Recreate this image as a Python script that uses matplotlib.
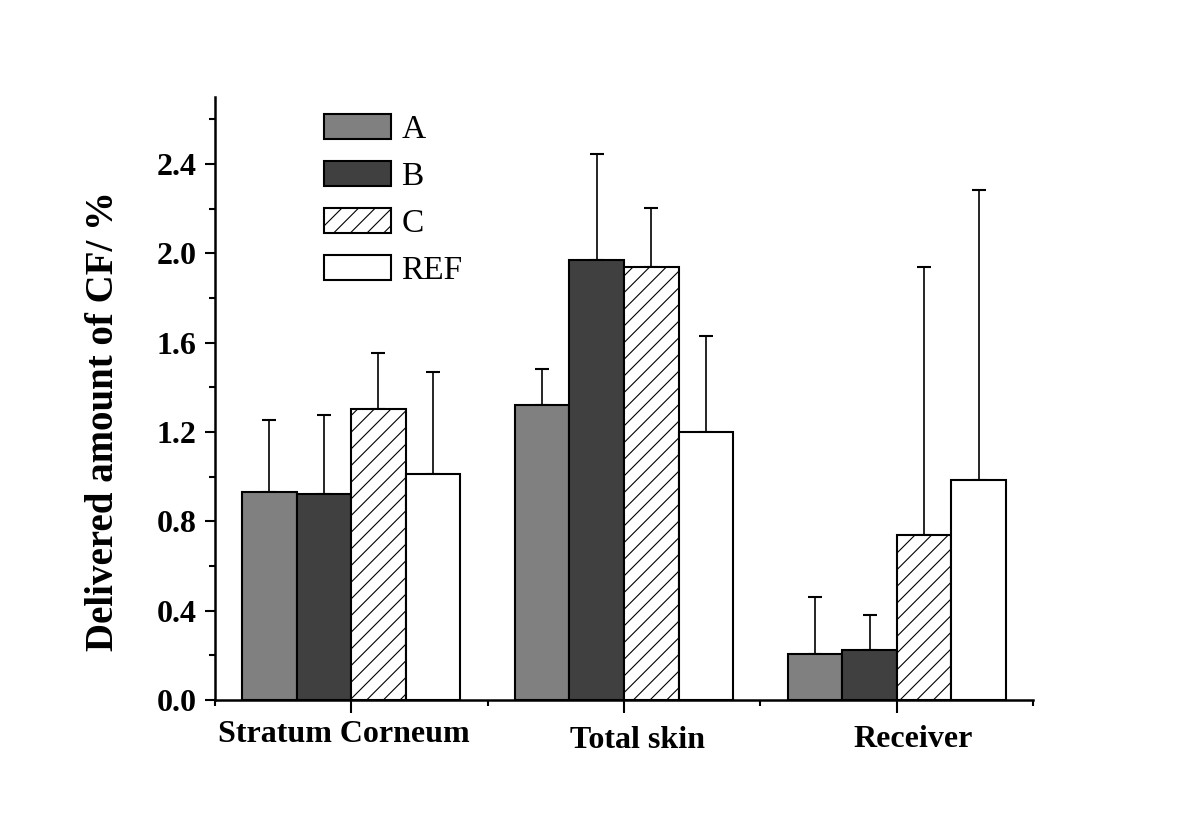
import numpy as np
import matplotlib; matplotlib.use("Agg")
import matplotlib.pyplot as plt
from matplotlib.ticker import MultipleLocator
from matplotlib.transforms import offset_copy

plt.rcParams['font.family'] = ['Liberation Serif', 'DejaVu Serif']
plt.rcParams['hatch.linewidth'] = 0.8

groups = ['Stratum Corneum', 'Total skin', 'Receiver']
series = ['A', 'B', 'C', 'REF']
# mean values per series (SC, total skin, receiver)
A_mean = [0.933, 1.321, 0.206]
B_mean = [0.922, 1.970, 0.226]
C_mean = [1.303, 1.939, 0.739]
REF_mean = [1.012, 1.202, 0.986]
# top of error bar
A_top = [1.253, 1.480, 0.460]
B_top = [1.278, 2.445, 0.382]
C_top = [1.555, 2.203, 1.940]
REF_top = [1.467, 1.632, 2.285]

means = [A_mean, B_mean, C_mean, REF_mean]
tops = [A_top, B_top, C_top, REF_top]
faces = ['#808080', '#404040', 'white', 'white']
hatches = [None, None, '//', None]

fig = plt.figure(figsize=(12, 8.39), dpi=100)
ax = fig.add_axes([0.179, 0.1657, 0.682, 0.7187])

xc = np.array([1, 3, 5])
w = 0.4
for i, s in enumerate(series):
    x = xc + (i - 1.5) * w
    m = np.array(means[i]); t = np.array(tops[i])
    ax.bar(x, m, w, color=faces[i], edgecolor='black', linewidth=1.5,
           hatch=hatches[i], label=s, zorder=2)
    ax.errorbar(x, m, yerr=[np.zeros(3), t - m], fmt='none', ecolor='black',
                elinewidth=1.2, capsize=4.7, capthick=1.5, zorder=1)

ax.set_xlim(0, 6)
ax.set_ylim(0, 2.7)
ax.yaxis.set_major_locator(MultipleLocator(0.4))
ax.yaxis.set_minor_locator(MultipleLocator(0.2))
ax.set_yticklabels([f"{v:.1f}" for v in ax.get_yticks()])
ax.set_xticks(xc)
ax.set_xticks([0, 2, 4, 6], minor=True)
ax.set_xticklabels([''] * 3)
for sp in ['top', 'right']:
    ax.spines[sp].set_visible(False)
for sp in ['left', 'bottom']:
    ax.spines[sp].set_linewidth(1.8)
ax.tick_params(axis='y', which='major', direction='out', length=7, width=1.5, pad=6)
ax.tick_params(axis='y', which='minor', direction='out', length=4.5, width=1.5)
ax.tick_params(axis='x', which='major', direction='out', length=9, width=1.5)
ax.tick_params(axis='x', which='minor', direction='out', length=4.5, width=1.5)
for lab in ax.get_yticklabels():
    lab.set_fontsize(23); lab.set_fontweight('bold')

# group labels, nudged like the original
nudge = [(-5, 0), (10, -4), (12, -3)]
for g, x, (dx, dy) in zip(groups, xc, nudge):
    tr = offset_copy(ax.get_xaxis_transform(), fig=fig, x=dx, y=dy, units='points')
    ax.text(x, -0.034, g, transform=tr, ha='center', va='top',
            fontsize=23, fontweight='bold')

ax.set_ylabel("Delivered amount of CF/ %", fontsize=28, fontweight='bold')
ax.yaxis.set_label_coords(-0.114, 0.462)

ax.legend(loc='upper left', bbox_to_anchor=(0.134, 0.972), frameon=False,
          fontsize=24, handlelength=2.0, handleheight=0.78, handletextpad=0.3,
          labelspacing=0.48, borderpad=0, borderaxespad=0)

fig.savefig("out.png", dpi=100)
